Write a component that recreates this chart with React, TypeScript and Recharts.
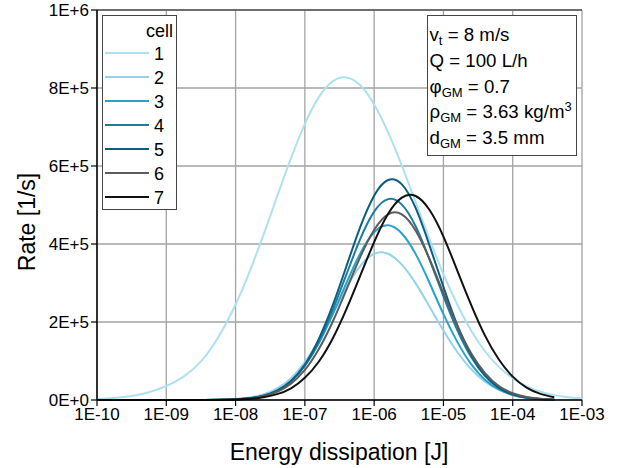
import { LineChart, Line, XAxis, YAxis, CartesianGrid, Legend, Label, ReferenceLine } from "recharts";

const FONT = "'Liberation Sans', Arial, Helvetica, sans-serif";

// energy dissipation [J], sample points (log spaced)
const energy = [
  1e-10, 1.778e-10, 3.162e-10, 5.623e-10, 1e-9, 1.778e-9, 3.162e-9, 5.623e-9,
  1e-8, 1.585e-8, 2.512e-8, 3.981e-8, 6.31e-8, 1e-7, 1.585e-7, 2.512e-7, 3.981e-7, 6.31e-7,
  1e-6, 1.585e-6, 2.512e-6, 3.981e-6, 6.31e-6, 1e-5, 1.585e-5, 2.512e-5, 3.981e-5, 6.31e-5,
  1e-4, 1.585e-4, 2.512e-4, 3.981e-4, 6.31e-4, 1e-3,
];

// rate [1/s] per cell
const cell1 = [2500, 5000, 10000, 20000, 36000, 60000, 99000, 161000, 245000, 328000, 422000, 522000, 620000, 708000, 776000, 817000, 827000, 807000, 758000, 687000, 601000, 507000, 412000, 323000, 245000, 178000, 125000, 85000, 56000, 35000, 21000, 12500, 7000, 3900];
const cell2 = [0, 0, 0, 0, 0, 0, 200, 700, 2500, 6300, 14300, 29600, 56000, 97000, 153000, 219000, 288000, 344000, 375000, 375000, 347000, 299000, 239000, 178000, 123000, 79000, 47000, 26000, 13500, 6500, 2900, 1200, null, null];
const cell3 = [0, 0, 0, 0, 0, 0, 0, 500, 1800, 4700, 11300, 24600, 48700, 88000, 145000, 219000, 300000, 376000, 430000, 448000, 427000, 374000, 300000, 220000, 149000, 92000, 52000, 27000, 13000, 5700, 2300, 800, null, null];
const cell4 = [0, 0, 0, 0, 0, 0, 0, 400, 1600, 4300, 10600, 23500, 47700, 88000, 149000, 230000, 322000, 413000, 483000, 515000, 501000, 445000, 360000, 266000, 179000, 110000, 62000, 32000, 14700, 6300, 2400, 900, null, null];
const cell5 = [0, 0, 0, 0, 0, 0, 0, 400, 1600, 4300, 10700, 24000, 49000, 91000, 156000, 242000, 343000, 444000, 524000, 564000, 553000, 492000, 396000, 290000, 192000, 116000, 63000, 31000, 14000, 5700, 2100, 700, null, null];
const cell6 = [0, 0, 0, 0, 0, 0, 0, 400, 1600, 4100, 9700, 21000, 42000, 77000, 130000, 200000, 283000, 367000, 436000, 476000, 476000, 434000, 361000, 274000, 190000, 120000, 69000, 36000, 17400, 7600, 3000, 1100, null, null];
const cell7 = [0, 0, 0, 0, 0, 0, 100, 300, 1200, 2900, 6900, 15000, 30000, 57000, 98000, 157000, 233000, 319000, 405000, 477000, 519000, 523000, 487000, 419000, 332000, 244000, 165000, 104000, 60000, 32000, 15800, 7200, null, null];

const cellNames = ["1", "2", "3", "4", "5", "6", "7"];
const cellColors = ["#ade0f0", "#94d3e9", "#27a3c9", "#1d7d9f", "#0c5d80", "#5c5c5c", "#111111"];

const xTicks = [1e-10, 1e-9, 1e-8, 1e-7, 1e-6, 1e-5, 1e-4, 1e-3];
const minorSteps = [2, 3, 4, 5, 6, 7, 8, 9];
const xMinorTicks = xTicks.slice(0, -1).flatMap((d) => minorSteps.map((m) => m * d));
const yTicks = [0, 200000, 400000, 600000, 800000, 1000000];
const yMinorTicks = [100000, 300000, 500000, 700000, 900000];

const series = [cell1, cell2, cell3, cell4, cell5, cell6, cell7];
const rows = energy.map((e, i) => {
  const r: Record<string, number | null> = { e };
  series.forEach((s, k) => (r[`c${k + 1}`] = s[i]));
  return r;
});

const fmtX = (v: number) => {
  const exp = Math.round(Math.log10(v));
  return `1E-${String(-exp).padStart(2, "0")}`;
};
const fmtY = (v: number) => v.toExponential().toUpperCase();

function CellLegend(props: any) {
  const items = props.payload ?? [];
  return (
    <svg width={75} height={195} style={{ display: "block" }}>
      <rect x={0.5} y={0.5} width={74} height={194} fill="#fff" stroke="#444" />
      <text x={71} y={22} textAnchor="end" fontSize={18} fontFamily={FONT}>cell</text>
      {items.map((it: any, i: number) => {
        const cy = 38 + i * 24;
        return (
          <g key={it.value}>
            <line x1={3} x2={47} y1={cy} y2={cy} stroke={it.color} strokeWidth={2} />
            <text x={52} y={cy + 6.5} fontSize={18} fontFamily={FONT}>{it.value}</text>
          </g>
        );
      })}
    </svg>
  );
}

function InfoBox() {
  const sub = (t: string) => <tspan dy={4} fontSize={13}>{t}</tspan>;
  return (
    <svg width={151} height={142} style={{ position: "absolute", left: 427, top: 15 }}>
      <rect x={0.5} y={0.5} width={149} height={140} fill="#fff" stroke="#444" />
      <g fontSize={18.7} fontFamily={FONT} fill="#000">
        <text x={2.5} y={25.5}>v{sub("t")}<tspan dy={-4}> = 8 m/s</tspan></text>
        <text x={2.5} y={51.5}>Q = 100 L/h</text>
        <text x={2.5} y={77.5}>φ{sub("GM")}<tspan dy={-4}> = 0.7</tspan></text>
        <text x={2.5} y={103}>ρ{sub("GM")}<tspan dy={-4}> = 3.63 kg/m</tspan><tspan dy={-7} fontSize={13}>3</tspan></text>
        <text x={2.5} y={129}>d{sub("GM")}<tspan dy={-4}> = 3.5 mm</tspan></text>
      </g>
    </svg>
  );
}

export default function App() {
  return (
    <div style={{ position: "absolute", left: 0, top: 0, width: 617, height: 468, background: "#fff" }}>
      <LineChart width={617} height={468} data={rows} margin={{ top: 10, right: 35, left: 37, bottom: 0 }} style={{ fontFamily: FONT }}>
        <XAxis
          xAxisId="minor"
          dataKey="e"
          type="number"
          scale="log"
          domain={[1e-10, 1e-3]}
          ticks={xMinorTicks}
          interval={0}
          tick={false}
          tickSize={3}
          height={0}
          axisLine={false}
          tickLine={{ stroke: "#000", strokeWidth: 1 }}
        />
        <YAxis
          yAxisId="minor"
          type="number"
          domain={[0, 1000000]}
          ticks={yMinorTicks}
          interval={0}
          tick={false}
          tickSize={3}
          width={0}
          axisLine={false}
          tickLine={{ stroke: "#000", strokeWidth: 1 }}
        />
        <CartesianGrid stroke="#a3a3a3" strokeWidth={1.3} />
        <XAxis
          dataKey="e"
          type="number"
          scale="log"
          domain={[1e-10, 1e-3]}
          ticks={xTicks}
          interval={0}
          tickFormatter={fmtX}
          tick={{ fontSize: 17, fill: "#000", fontFamily: FONT }}
          tickSize={6}
          tickMargin={2}
          height={68}
          axisLine={{ stroke: "#000", strokeWidth: 1.5 }}
          tickLine={{ stroke: "#000", strokeWidth: 1.2 }}
        >
          <Label
            content={() => (
              <text x={339} y={460} textAnchor="middle" fontSize={23} fontFamily={FONT} fill="#000">
                Energy dissipation [J]
              </text>
            )}
          />
        </XAxis>
        <YAxis
          type="number"
          domain={[0, 1000000]}
          ticks={yTicks}
          interval={0}
          tickFormatter={fmtY}
          tick={{ fontSize: 17, fill: "#000", fontFamily: FONT }}
          tickSize={6}
          tickMargin={2}
          width={60}
          axisLine={{ stroke: "#000", strokeWidth: 1.5 }}
          tickLine={{ stroke: "#000", strokeWidth: 1.2 }}
        >
          <Label
            content={() => (
              <text x={35} y={222} transform="rotate(-90 35 222)" textAnchor="middle" fontSize={23} fontFamily={FONT} fill="#000">
                Rate [1/s]
              </text>
            )}
          />
        </YAxis>
        <ReferenceLine y={1000000} stroke="#555" strokeWidth={1.3} />
        {series.map((_, k) => (
          <Line
            key={k}
            type="natural"
            dataKey={`c${k + 1}`}
            name={cellNames[k]}
            stroke={cellColors[k]}
            strokeWidth={2}
            dot={false}
            activeDot={false}
            isAnimationActive={false}
          />
        ))}
        <Legend
          layout="vertical"
          align="center"
          verticalAlign="middle"
          content={<CellLegend />}
          wrapperStyle={{ left: 102, top: 15, width: 75, height: 195 }}
        />
      </LineChart>
      <InfoBox />
    </div>
  );
}
